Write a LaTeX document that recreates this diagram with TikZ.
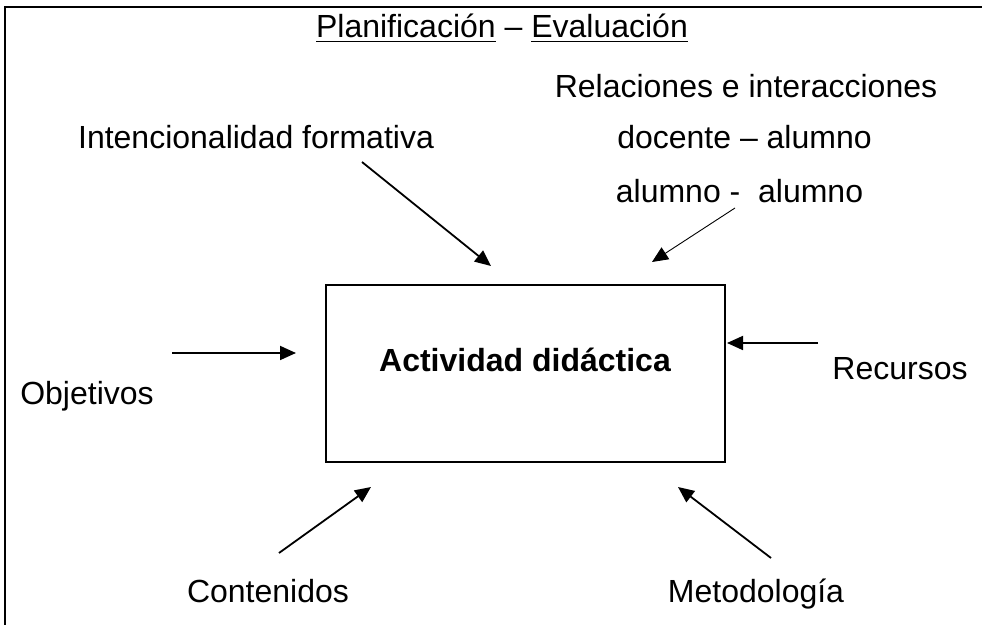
\documentclass[tikz,border=0pt]{standalone}
\usepackage{fontspec}
\setmainfont{Liberation Sans}
\usetikzlibrary{arrows.meta}
\begin{document}
\begin{tikzpicture}[x=0.5pt,y=-0.5pt,
  lbl/.style={anchor=base,inner sep=0pt,font=\fontsize{16pt}{19pt}\selectfont},
  conn/.style={line width=0.9pt,-{Triangle[length=8pt,width=7pt]}},
  thinconn/.style={line width=0.45pt,-{Triangle[length=8pt,width=7pt]}},
  frameline/.style={line width=1pt}]
\useasboundingbox (0,0) rectangle (982,625);
% frame
\coordinate (fr) at (982,7);
\coordinate (fc) at (5,7);
\coordinate (fb) at (5,625);
\draw[frameline] (fr) -- (fc) -- (fb);
% central box
\node[draw,line width=1pt,minimum width=199.5pt,minimum height=88.5pt,inner sep=0pt] (box) at (525.5,373.5) {};
\node[lbl,font=\fontsize{16pt}{19pt}\selectfont\bfseries] (act) at (525,372) {Actividad didáctica};
% texts
\node[lbl] (tit) at (502,38) {\underline{Planificación} – \underline{Evaluación}};
\node[lbl] (rel) at (746,98) {Relaciones e interacciones};
\node[lbl] (int) at (256,149) {Intencionalidad formativa};
\node[lbl] (doc) at (744.5,149) {docente – alumno};
\node[lbl] (alu) at (739.5,203) {alumno -\ \ alumno};
\node[lbl] (obj) at (87,405) {Objetivos};
\node[lbl] (rec) at (900,380) {Recursos};
\node[lbl] (con) at (268,603) {Contenidos};
\node[lbl] (met) at (756,603) {Metodología};
% arrow end points
\coordinate (a1s) at (362,162); \coordinate (a1e) at (491,266);
\coordinate (a2s) at (735,208); \coordinate (a2e) at (652,262);
\coordinate (a3s) at (172,353); \coordinate (a3e) at (296,353);
\coordinate (a4s) at (818,343); \coordinate (a4e) at (727,343);
\coordinate (a5s) at (279,553); \coordinate (a5e) at (371,487);
\coordinate (a6s) at (771,558); \coordinate (a6e) at (678,487);
\draw[conn] (a1s) -- (a1e);
\draw[thinconn] (a2s) -- (a2e);
\draw[conn] (a3s) -- (a3e);
\draw[conn] (a4s) -- (a4e);
\draw[conn] (a5s) -- (a5e);
\draw[conn] (a6s) -- (a6e);
\end{tikzpicture}
\end{document}
